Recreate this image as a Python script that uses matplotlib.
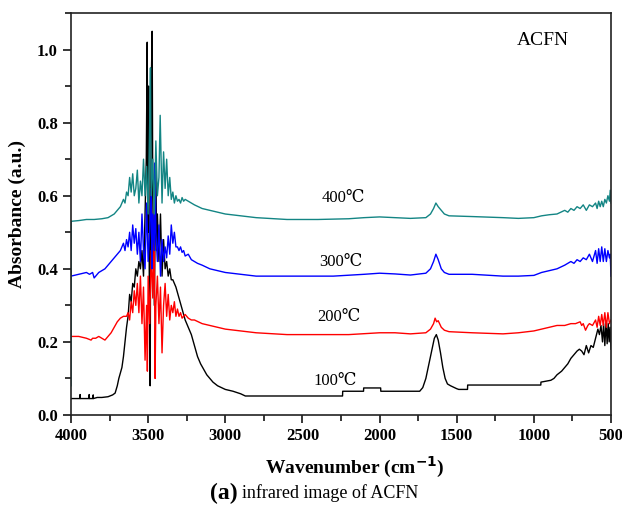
import matplotlib
matplotlib.use("Agg")
import matplotlib.pyplot as plt
from matplotlib.ticker import MultipleLocator

FAM = ['Liberation Serif', 'DejaVu Serif']
plt.rcParams['font.family'] = FAM

# ---------------- data (wavenumber cm-1, absorbance a.u.) ----------------
wn_100 = [4000, 3960, 3942, 3941, 3940, 3900, 3883, 3882, 3881, 3857, 3856, 3855, 3830, 3820, 3800,
          3760, 3730, 3714, 3700, 3690, 3680, 3670, 3660, 3650, 3640, 3630, 3620, 3610, 3600, 3590,
          3580, 3570, 3560, 3550, 3540, 3530, 3520, 3512, 3506, 3502, 3497, 3492, 3487, 3483, 3478,
          3474, 3470, 3465, 3460, 3455, 3450, 3445, 3440, 3430, 3420, 3410, 3400, 3390, 3380, 3370,
          3360, 3350, 3340, 3330, 3320, 3300, 3280, 3260, 3240, 3220, 3200, 3180, 3160, 3140, 3120,
          3100, 3080, 3050, 3000, 2950, 2900, 2870, 2240, 2239, 2104, 2103, 1993, 1992, 1740, 1720,
          1700, 1680, 1660, 1645, 1632, 1620, 1605, 1590, 1575, 1560, 1540, 1500, 1487, 1430, 1429,
          955, 954, 890, 870, 850, 820, 800, 780, 760, 740, 720, 705, 690, 675, 660, 645, 630, 615,
          600, 585, 575, 565, 555, 548, 540, 532, 525, 518, 512, 506, 500]
abs_100 = [0.045, 0.045, 0.045, 0.056, 0.045, 0.045, 0.045, 0.056, 0.045, 0.045, 0.055, 0.045, 0.048, 0.048, 0.048,
           0.05, 0.055, 0.06, 0.08, 0.10, 0.115, 0.13, 0.16, 0.20, 0.24, 0.27, 0.33, 0.31, 0.36, 0.35,
           0.40, 0.38, 0.42, 0.40, 0.45, 0.38, 0.55, 0.70, 1.02, 0.50, 0.90, 0.30, 0.08, 0.60, 0.95,
           1.05, 0.60, 0.45, 0.30, 0.50, 0.70, 0.45, 0.55, 0.42, 0.55, 0.38, 0.48, 0.40, 0.42, 0.38,
           0.40, 0.37, 0.37, 0.36, 0.35, 0.32, 0.29, 0.26, 0.24, 0.22, 0.19, 0.16, 0.14, 0.125, 0.11,
           0.10, 0.09, 0.08, 0.07, 0.065, 0.058, 0.052, 0.052, 0.065, 0.065, 0.074, 0.074, 0.065, 0.065, 0.075,
           0.10, 0.14, 0.18, 0.21, 0.22, 0.205, 0.17, 0.13, 0.10, 0.085, 0.08, 0.072, 0.07, 0.07, 0.082,
           0.082, 0.09, 0.095, 0.10, 0.11, 0.12, 0.13, 0.14, 0.155, 0.165, 0.175, 0.18, 0.175, 0.165, 0.19,
           0.17, 0.19, 0.185, 0.21, 0.235, 0.22, 0.245, 0.20, 0.25, 0.19, 0.255, 0.195, 0.25, 0.20, 0.24, 0.18]

wn_200 = [4000, 3950, 3900, 3870, 3860, 3840, 3820, 3800, 3780, 3760, 3740, 3720, 3700, 3680, 3660,
          3640, 3630, 3620, 3610, 3600, 3590, 3580, 3570, 3560, 3550, 3540, 3530, 3520, 3510, 3505,
          3500, 3490, 3480, 3470, 3460, 3455, 3450, 3440, 3430, 3420, 3410, 3400, 3390, 3380, 3370,
          3360, 3350, 3340, 3330, 3320, 3310, 3300, 3290, 3280, 3260, 3240, 3220, 3200, 3150, 3100,
          3050, 3000, 2900, 2800, 2600, 2400, 2200, 2000, 1900, 1800, 1700, 1670, 1650, 1640, 1630,
          1620, 1600, 1580, 1550, 1400, 1200, 1100, 1000, 950, 900, 850, 800, 760, 730, 700,
          690, 680, 665, 650, 640, 620, 600, 590, 580, 570, 560, 550, 540, 530, 520, 510, 500]
abs_200 = [0.215, 0.215, 0.21, 0.205, 0.21, 0.21, 0.215, 0.21, 0.205, 0.215, 0.225, 0.24, 0.255, 0.265, 0.27,
           0.27, 0.28, 0.26, 0.31, 0.28, 0.34, 0.30, 0.36, 0.28, 0.38, 0.25, 0.35, 0.15, 0.30, 0.12,
           0.38, 0.25, 0.45, 0.32, 0.50, 0.10, 0.30, 0.38, 0.25, 0.35, 0.17, 0.30, 0.36, 0.27, 0.33,
           0.26, 0.30, 0.28, 0.31, 0.27, 0.29, 0.27, 0.28, 0.265, 0.275, 0.265, 0.26, 0.26, 0.25, 0.245,
           0.24, 0.235, 0.23, 0.225, 0.22, 0.22, 0.22, 0.225, 0.225, 0.222, 0.225, 0.235, 0.25, 0.265, 0.255,
           0.258, 0.24, 0.232, 0.228, 0.225, 0.222, 0.225, 0.23, 0.235, 0.24, 0.245, 0.245, 0.25, 0.25, 0.255,
           0.245, 0.25, 0.232, 0.245, 0.25, 0.245, 0.26, 0.24, 0.27, 0.245, 0.275, 0.245, 0.28, 0.24, 0.28, 0.25, 0.26]

wn_300 = [4000, 3950, 3900, 3880, 3860, 3850, 3840, 3820, 3800, 3780, 3760, 3740, 3720, 3700, 3680,
          3660, 3650, 3640, 3630, 3620, 3610, 3600, 3590, 3580, 3570, 3560, 3550, 3540, 3530, 3520,
          3510, 3500, 3490, 3480, 3475, 3470, 3460, 3455, 3450, 3440, 3430, 3420, 3410, 3400, 3390,
          3380, 3370, 3360, 3350, 3340, 3330, 3320, 3310, 3300, 3290, 3280, 3270, 3260, 3240, 3220,
          3200, 3180, 3150, 3100, 3050, 3000, 2900, 2800, 2500, 2300, 2100, 2000, 1900, 1800, 1700,
          1670, 1650, 1635, 1620, 1600, 1580, 1550, 1400, 1200, 1100, 1000, 950, 900, 850, 800,
          760, 740, 720, 700, 680, 660, 640, 620, 600, 590, 580, 570, 560, 550, 540, 530, 520, 510, 505, 500]
abs_300 = [0.38, 0.385, 0.39, 0.385, 0.39, 0.375, 0.38, 0.39, 0.395, 0.40, 0.41, 0.42, 0.43, 0.44, 0.45,
           0.47, 0.45, 0.48, 0.46, 0.50, 0.45, 0.52, 0.47, 0.51, 0.44, 0.50, 0.42, 0.55, 0.45, 0.40,
           0.58, 0.42, 0.50, 0.62, 0.40, 0.55, 0.45, 0.69, 0.50, 0.42, 0.52, 0.38, 0.48, 0.42, 0.46,
           0.43, 0.49, 0.44, 0.52, 0.47, 0.50, 0.46, 0.46, 0.45, 0.46, 0.445, 0.45, 0.435, 0.44, 0.425,
           0.42, 0.415, 0.41, 0.40, 0.395, 0.39, 0.385, 0.38, 0.38, 0.38, 0.385, 0.388, 0.386, 0.383, 0.388,
           0.40, 0.42, 0.44, 0.425, 0.40, 0.39, 0.385, 0.385, 0.38, 0.38, 0.382, 0.39, 0.395, 0.40, 0.41,
           0.42, 0.415, 0.425, 0.42, 0.43, 0.425, 0.44, 0.42, 0.45, 0.415, 0.455, 0.42, 0.46, 0.42, 0.455, 0.42, 0.45, 0.43, 0.44, 0.38]

wn_400 = [4000, 3999, 3950, 3900, 3850, 3800, 3760, 3740, 3720, 3700, 3680, 3660, 3650, 3640, 3630,
          3620, 3610, 3600, 3590, 3580, 3570, 3560, 3550, 3540, 3530, 3520, 3510, 3500, 3490, 3485,
          3480, 3470, 3460, 3450, 3440, 3430, 3422, 3410, 3400, 3390, 3380, 3370, 3360, 3350, 3340,
          3330, 3320, 3310, 3300, 3290, 3280, 3270, 3260, 3240, 3220, 3200, 3150, 3100, 3050, 3000,
          2900, 2800, 2600, 2400, 2200, 2100, 2000, 1900, 1800, 1700, 1670, 1650, 1635, 1620, 1600,
          1580, 1550, 1400, 1200, 1100, 1000, 950, 900, 850, 800, 780, 760, 740, 720, 700,
          680, 660, 640, 620, 600, 590, 580, 570, 560, 550, 540, 530, 520, 510, 505, 500]
abs_400 = [0.08, 0.53, 0.532, 0.535, 0.535, 0.537, 0.54, 0.545, 0.55, 0.56, 0.57, 0.59, 0.58, 0.61, 0.60,
           0.65, 0.61, 0.66, 0.60, 0.62, 0.67, 0.58, 0.64, 0.60, 0.70, 0.60, 0.68, 0.55, 0.80, 0.95,
           0.60, 0.70, 0.55, 0.75, 0.60, 0.65, 0.82, 0.58, 0.72, 0.62, 0.70, 0.60, 0.65, 0.59, 0.61,
           0.58, 0.60, 0.585, 0.59, 0.58, 0.595, 0.585, 0.59, 0.585, 0.58, 0.575, 0.565, 0.56, 0.555, 0.55,
           0.545, 0.54, 0.535, 0.535, 0.537, 0.54, 0.542, 0.54, 0.538, 0.54, 0.55, 0.565, 0.58, 0.57, 0.56,
           0.55, 0.545, 0.543, 0.54, 0.538, 0.54, 0.545, 0.548, 0.55, 0.56, 0.555, 0.565, 0.56, 0.57, 0.565,
           0.575, 0.56, 0.575, 0.57, 0.58, 0.565, 0.585, 0.57, 0.585, 0.57, 0.59, 0.58, 0.60, 0.585, 0.615, 0.58]

series = [
    (wn_100, abs_100, '#000000', '100℃'),
    (wn_200, abs_200, '#ff0000', '200℃'),
    (wn_300, abs_300, '#0000ff', '300℃'),
    (wn_400, abs_400, '#138584', '400℃'),
]
label_pos = {'100℃': (2286, 0.093), '200℃': (2266, 0.268),
             '300℃': (2253, 0.42), '400℃': (2234, 0.593)}

x_ticks = [4000, 3500, 3000, 2500, 2000, 1500, 1000, 500]
y_ticks = [0.0, 0.2, 0.4, 0.6, 0.8, 1.0]

# ---------------- figure ----------------
fig = plt.figure(figsize=(6.22, 5.11), dpi=100)
ax = fig.add_axes([71/622, 1 - 415/511, (611-71)/622, (415-13)/511])

for wn, ab, col, lab in series:
    ax.plot(wn, ab, color=col, lw=1.0)
    lx, ly = label_pos[lab]
    ax.text(lx, ly, lab, fontsize=12, ha='center', va='center', family=FAM)

ax.set_xlim(4000, 500)
ax.set_ylim(0, 1.1)
ax.set_xticks(x_ticks)
ax.set_yticks(y_ticks)
ax.set_yticklabels([f"{v:.1f}" for v in y_ticks])
ax.xaxis.set_minor_locator(MultipleLocator(250))
ax.yaxis.set_minor_locator(MultipleLocator(0.1))
ax.tick_params(which='major', direction='out', length=6, width=1.1, labelsize=12, top=False, right=False)
ax.tick_params(which='minor', direction='out', length=4, width=1.1, top=False, right=False)
for lbl in ax.get_xticklabels() + ax.get_yticklabels():
    lbl.set_fontweight('bold')
for sp in ax.spines.values():
    sp.set_linewidth(1.2)
    sp.set_color('#222222')

ax.text(941, 1.025, 'ACFN', fontsize=14, ha='center', va='center')
ax.set_ylabel('Absorbance (a.u.)', fontsize=14, fontweight='bold', labelpad=8)
fig.text(355/622, 1 - 467/511, 'Wavenumber (cm$^{\\mathbf{-1}}$)', fontsize=14, fontweight='bold',
         ha='center', va='center')
fig.text(238/622, 1 - 493/511, '(a)', fontsize=17, fontweight='bold', ha='right', va='center')
fig.text(242/622, 1 - 493/511, 'infrared image of ACFN', fontsize=13, ha='left', va='center')

fig.savefig('out.png', dpi=100)
